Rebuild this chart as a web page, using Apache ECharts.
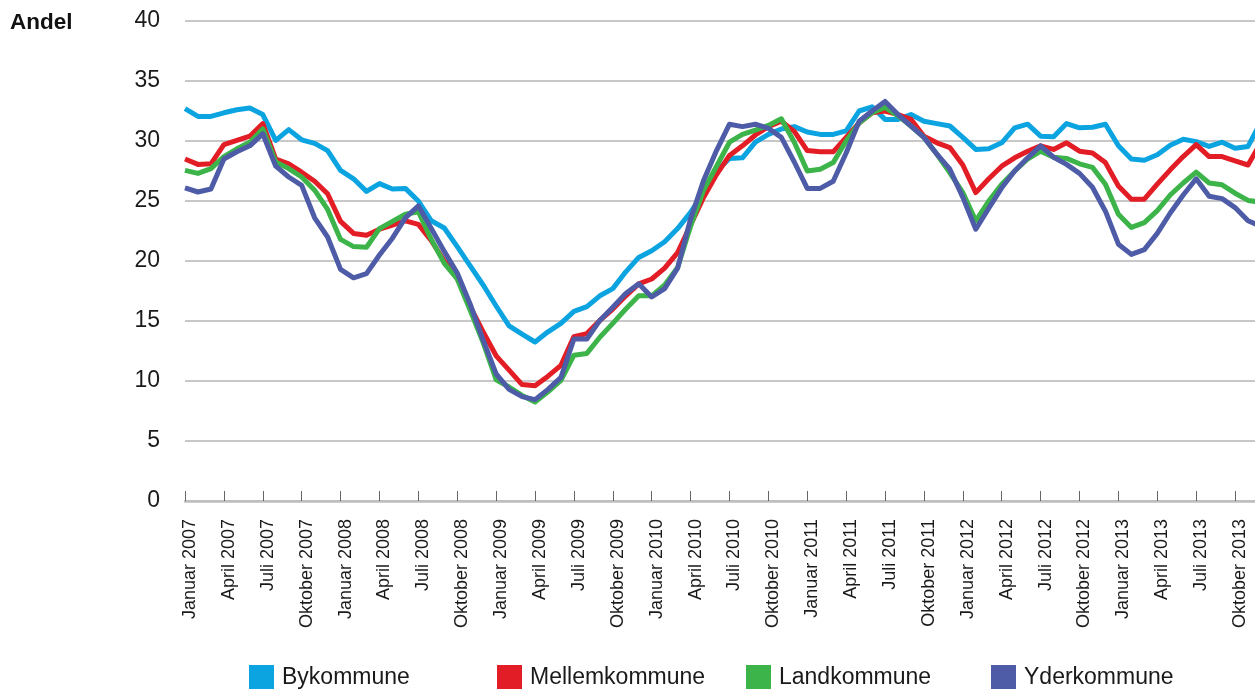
<!DOCTYPE html>
<html>
<head>
<meta charset="utf-8">
<script src="https://cdn.jsdelivr.net/npm/echarts@6/dist/echarts.min.js"></script>
<style>
html,body{margin:0;padding:0;background:#fff;}
#chart{width:1255px;height:689px;}
</style>
</head>
<body>
<div id="chart"></div>
<script>
// ---- data ----
const years = [2007, 2008, 2009, 2010, 2011, 2012, 2013];
const monthNames = ['Januar','Februar','Marts','April','Maj','Juni','Juli','August','September','Oktober','November','December'];
const seriesNames = ['Bykommune','Mellemkommune','Landkommune','Yderkommune'];
const yTicks = [0, 5, 10, 15, 20, 25, 30, 35, 40];

const bykommune = [
  32.7,32.05,32.05,32.35,32.6,32.75,32.2,30.05,30.95,30.1,29.8,29.2,
  27.55,26.85,25.8,26.45,26.0,26.05,25.0,23.35,22.75,21.2,19.6,18.0,
  16.25,14.6,13.9,13.25,14.1,14.8,15.8,16.2,17.1,17.7,19.1,20.3,
  20.85,21.6,22.7,24.05,25.7,27.5,28.55,28.6,29.9,30.55,31.0,31.2,
  30.75,30.55,30.55,30.85,32.5,32.85,31.8,31.8,32.2,31.65,31.45,31.25,
  30.3,29.3,29.35,29.85,31.1,31.4,30.4,30.35,31.45,31.1,31.15,31.4,
  29.6,28.5,28.4,28.85,29.65,30.15,29.95,29.55,29.9,29.4,29.55,31.6
];
const mellemkommune = [
  28.5,28.05,28.1,29.7,30.05,30.4,31.45,28.5,28.1,27.4,26.65,25.6,
  23.3,22.3,22.15,22.65,23.0,23.35,23.05,21.7,20.0,18.6,16.2,14.1,
  12.1,10.9,9.7,9.6,10.4,11.3,13.7,13.95,15.05,16.0,17.1,18.1,
  18.5,19.4,20.7,23.0,25.3,27.2,28.8,29.6,30.5,31.2,31.65,30.8,
  29.2,29.1,29.1,30.3,31.5,32.35,32.5,32.2,31.8,30.4,29.85,29.45,
  28.0,25.7,26.85,27.9,28.6,29.15,29.6,29.3,29.85,29.15,29.0,28.2,
  26.25,25.15,25.15,26.4,27.6,28.7,29.7,28.7,28.7,28.35,28.0,29.9
];
const landkommune = [
  27.55,27.3,27.7,28.7,29.35,29.9,31.0,28.25,27.7,27.0,25.9,24.3,
  21.8,21.2,21.15,22.7,23.3,23.9,24.1,21.8,19.8,18.5,15.9,13.2,
  10.1,9.5,8.8,8.25,9.1,10.05,12.15,12.3,13.65,14.8,16.0,17.1,
  17.1,18.0,19.45,22.9,25.9,27.9,29.9,30.55,30.9,31.3,31.85,29.9,
  27.5,27.65,28.2,30.0,31.5,32.35,32.8,32.1,31.25,30.3,28.9,27.35,
  25.7,23.35,25.0,26.4,27.5,28.5,29.15,28.65,28.55,28.1,27.8,26.4,
  23.9,22.8,23.2,24.2,25.5,26.5,27.4,26.5,26.35,25.65,25.05,24.9
];
const yderkommune = [
  26.1,25.75,26.0,28.5,29.1,29.6,30.6,27.9,27.0,26.3,23.6,22.0,
  19.3,18.6,18.95,20.5,21.9,23.6,24.6,22.7,20.8,19.0,16.4,13.4,
  10.6,9.3,8.7,8.45,9.3,10.3,13.5,13.5,15.05,16.15,17.3,18.1,
  17.0,17.7,19.4,23.5,26.7,29.2,31.4,31.2,31.4,31.05,30.3,28.25,
  26.05,26.05,26.65,29.0,31.65,32.5,33.3,32.2,31.25,30.3,28.9,27.65,
  25.3,22.65,24.4,26.1,27.5,28.6,29.6,28.65,28.05,27.3,26.15,24.15,
  21.4,20.55,20.95,22.3,24.0,25.5,26.85,25.4,25.2,24.45,23.35,22.9
];
const colors = ['#0ba4e1', '#e31d25', '#3cb44a', '#4e5ba7'];

// ---- build ----
const categories = [];
years.forEach(y => monthNames.forEach(m => categories.push(m + ' ' + y)));
const values = [bykommune, mellemkommune, landkommune, yderkommune];

const FONT = '"Liberation Sans", Arial, Helvetica, sans-serif';
const chart = echarts.init(document.getElementById('chart'), null, {renderer: 'canvas'});

const legendLefts = [249, 497, 746, 991];
const legends = seriesNames.map((n, i) => ({
  data: [n],
  left: legendLefts[i],
  top: 665,
  orient: 'horizontal',
  icon: 'rect',
  itemWidth: 25,
  itemHeight: 25,
  padding: 0,
  selectedMode: false,
  textStyle: {fontFamily: FONT, fontSize: 23, color: '#1a1a1a', padding: [0, 0, 0, 3]}
}));

chart.setOption({
  animation: false,
  backgroundColor: '#ffffff',
  color: colors,
  title: {
    text: 'Andel',
    left: 10, top: 11, padding: 0,
    textStyle: {fontFamily: FONT, fontSize: 22.5, fontWeight: 'bold', color: '#111'}
  },
  legend: legends,
  grid: {
    left: 185, right: -6, top: 21, bottom: 188,
    containLabel: false, outerBoundsMode: 'none'
  },
  xAxis: {
    type: 'category',
    data: categories,
    boundaryGap: false,
    axisLine: {show: true, lineStyle: {color: '#bdbdbd', width: 2.5}},
    axisTick: {show: true, inside: true, length: 10, interval: 2, lineStyle: {color: '#666', width: 1}},
    axisLabel: {
      interval: 2, rotate: 90, margin: 18,
      verticalAlign: 'top', lineHeight: 10,
      fontFamily: FONT, fontSize: 18, color: '#1a1a1a'
    },
    splitLine: {show: false}
  },
  yAxis: {
    type: 'value',
    min: yTicks[0], max: yTicks[yTicks.length - 1], interval: yTicks[1] - yTicks[0],
    axisLine: {show: false},
    axisTick: {show: false},
    axisLabel: {margin: 25, fontFamily: FONT, fontSize: 23, color: '#1a1a1a'},
    splitLine: {show: true, lineStyle: {color: '#c8c8c8', width: 2}}
  },
  series: seriesNames.map((n, i) => ({
    name: n,
    type: 'line',
    data: values[i],
    showSymbol: false,
    symbol: 'none',
    smooth: false,
    clip: true,
    lineStyle: {width: 5, color: colors[i], join: 'round'},
    itemStyle: {color: colors[i]},
    emphasis: {disabled: true},
    z: 2 + i
  }))
});
</script>
</body>
</html>
